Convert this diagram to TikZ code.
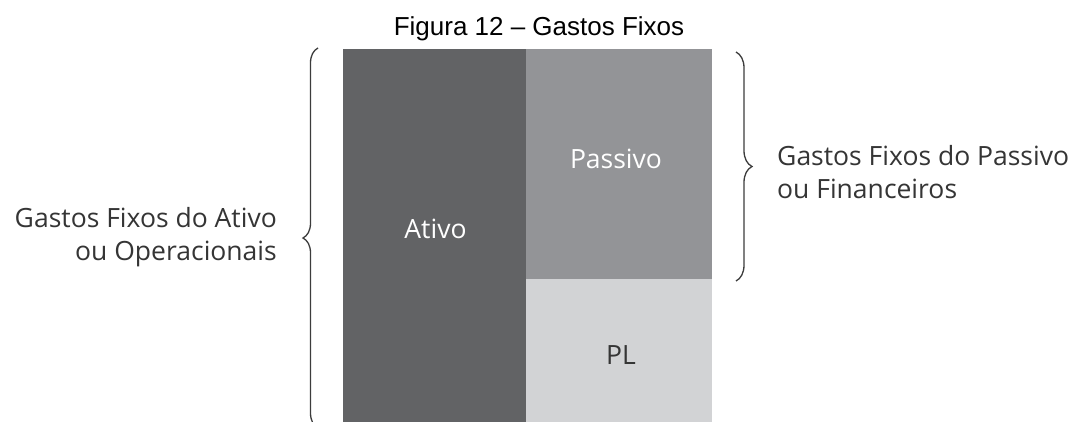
\documentclass[tikz,border=0pt]{standalone}
\usepackage{fontspec}
\setmainfont{Liberation Sans}
\newfontfamily\lblfont{Open Sans}
\usetikzlibrary{decorations.pathreplacing}
\definecolor{ativoC}{HTML}{626365}
\definecolor{passC}{HTML}{939497}
\definecolor{plC}{HTML}{D2D3D5}
\definecolor{txtC}{HTML}{353535}
\definecolor{brcC}{HTML}{3C3C3C}
\tikzset{
  blk/.style={draw=none, inner sep=0pt, outer sep=0pt},
  lbl/.style={inner sep=0pt, font=\lblfont\fontsize{26.5}{32}\selectfont, text=txtC},
  brc/.style={draw=brcC, line width=1.3pt, decorate},
  ttl/.style={inner sep=0pt, font=\fontsize{26}{31}\selectfont, text=black}
}
\begin{document}
\begin{tikzpicture}[x=1pt,y=-1pt]
\useasboundingbox (0,0) rectangle (1071,421);
\fill[white] (0,0) rectangle (1071,421);
% title
\node[ttl, anchor=base] (title) at (539,35) {Figura 12 – Gastos Fixos};
% blocks
\node[blk, fill=ativoC, minimum width=183pt, minimum height=380pt, anchor=north west] (ativo) at (343,49) {};
\node[blk, fill=passC, minimum width=186pt, minimum height=230pt, anchor=north west] (passivo) at (526,49) {};
\node[blk, fill=plC, minimum width=186pt, minimum height=150pt, anchor=north west] (pl) at (526,279) {};
% block labels
\node[lbl, text=white, anchor=base] (tAtivo) at (435.5,238) {Ativo};
\node[lbl, text=white, anchor=base] (tPassivo) at (616,168) {Passivo};
\node[lbl, anchor=base] (tPL) at (621,364) {PL};
% braces
\coordinate (lbT) at (318,48);
\coordinate (lbB) at (318,428);
\draw[brc, decoration={brace, amplitude=15pt}] (lbB) -- (lbT);
\coordinate (rbT) at (736,52);
\coordinate (rbB) at (736,281);
\draw[brc, decoration={brace, amplitude=16pt}] (rbT) -- (rbB);
% side labels
\node[lbl, anchor=base east] (lA1) at (277,227) {Gastos Fixos do Ativo};
\node[lbl, anchor=base east] (lA2) at (277,260) {ou Operacionais};
\node[lbl, anchor=base west] (lP1) at (777,165) {Gastos Fixos do Passivo};
\node[lbl, anchor=base west] (lP2) at (777,198) {ou Financeiros};
\end{tikzpicture}
\end{document}
